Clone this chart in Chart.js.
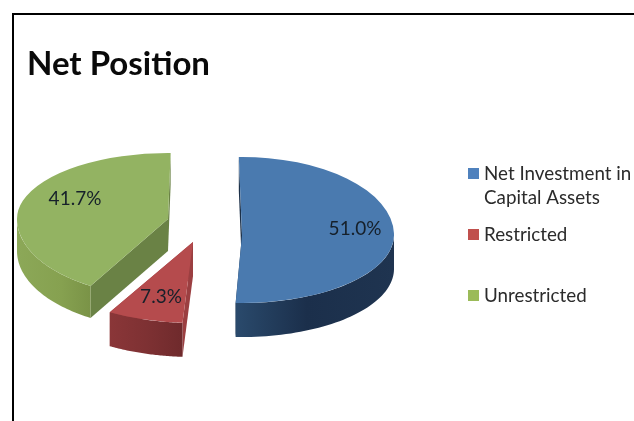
<!DOCTYPE html>
<html>
<head>
<meta charset="utf-8">
<style>
html,body{margin:0;padding:0;background:#fff;overflow:hidden}
canvas{display:block;filter:blur(0.5px)}
</style>
<script src="https://cdn.jsdelivr.net/npm/chart.js@4/dist/chart.umd.min.js"></script>
</head>
<body>
<canvas id="c" width="634" height="421"></canvas>
<script>
const titleText = 'Net Position';
const categories = ['Net Investment in Capital Assets', 'Restricted', 'Unrestricted'];
const legendLines = [['Net Investment in', 'Capital Assets'], ['Restricted'], ['Unrestricted']];
const values = [51.0, 7.3, 41.7];
const topColors = ['#4a7aaf', '#b54b4d', '#93b362'];
const swatchColors = ['#4f81bd', '#c0504d', '#9bbb59'];

const poses = [
  {cx:242, cy:235, rx:152, ryUp:78, ryDown:68, turn:-1.2, depth:34, label:[355,229],
   rim:[['0','#2a4a6c'],['0.45','#1b2f4b'],['1','#1f3450']], cut:'#1c3048'},
  {cx:193, cy:242, rx:167, ryUp:81, ryDown:81, turn:0, depth:34, label:[161,297],
   rim:[['0','#8a3638'],['0.5','#7e3133'],['1','#6f2a2c']], cut:'#9b3f41'},
  {cx:168, cy:219, rx:151, ryUp:66, ryDown:78, turn:1, depth:32, label:[75,199],
   rim:[['0','#8ca858'],['0.6','#86a150'],['1','#7a9347']], cut:'#6a8245'}
];
const legendLayout = [{box:168, lines:[174,198]}, {box:229, lines:[235]}, {box:290, lines:[296]}];
const FONT = 'Lato, "Liberation Sans", sans-serif';

function pt(p, t, drop){
  const a = t + p.turn*Math.PI/180;
  const s = Math.sin(a);
  return [p.cx + p.rx*Math.cos(a), p.cy + (s<0?p.ryUp:p.ryDown)*s + (drop||0)];
}

const pie3d = {
  id:'pie3d',
  beforeDraw(chart){
    const c = chart.ctx;
    c.save();
    c.fillStyle = '#fff';
    c.fillRect(0,0,chart.width,chart.height);
    c.strokeStyle = '#000';
    c.lineWidth = 2;
    c.beginPath();
    c.moveTo(13,421); c.lineTo(13,14); c.lineTo(634,14);
    c.stroke();
    c.restore();
  },
  beforeDatasetDraw(chart){
    const c = chart.ctx;
    const els = chart.getDatasetMeta(0).data;
    [2,0,1].forEach(i=>{
      const el = els[i], p = poses[i], R = el.outerRadius;
      const start = el.startAngle, end = el.endAngle;
      const a0 = pt(p,start), a1 = pt(p,end);

      // cut faces
      c.fillStyle = p.cut;
      [a0,a1].forEach(q=>{
        c.beginPath();
        c.moveTo(p.cx,p.cy); c.lineTo(q[0],q[1]);
        c.lineTo(q[0],q[1]+p.depth); c.lineTo(p.cx,p.cy+p.depth);
        c.closePath(); c.fill();
      });

      // rim
      const turn = p.turn*Math.PI/180;
      const from = Math.max(start, -turn), to = Math.min(end, Math.PI-turn);
      if(to>from){
        const top=[], n=48;
        for(let k=0;k<=n;k++) top.push(pt(p, from+(to-from)*k/n));
        const xs = top.map(q=>q[0]);
        const g = c.createLinearGradient(Math.min(...xs),0,Math.max(...xs),0);
        p.rim.forEach(s=>g.addColorStop(+s[0],s[1]));
        c.fillStyle = g;
        c.beginPath();
        top.forEach((q,k)=> k?c.lineTo(q[0],q[1]):c.moveTo(q[0],q[1]));
        top.slice().reverse().forEach(q=>c.lineTo(q[0],q[1]+p.depth));
        c.closePath(); c.fill();
      }

      // top face, drawn by the library's arc element, upper and lower halves
      [[0,p.cy,p.ryUp],[p.cy,chart.height-p.cy,p.ryDown]].forEach(h=>{
        c.save();
        c.beginPath(); c.rect(0,h[0],chart.width,h[1]); c.clip();
        c.translate(p.cx,p.cy);
        c.scale(p.rx/R,h[2]/R);
        c.rotate(turn);
        c.translate(-el.x,-el.y);
        el.draw(c);
        c.restore();
      });
    });
    return false;
  },
  afterDatasetsDraw(chart){
    const c = chart.ctx;
    c.save();
    c.font = '19px '+FONT;
    c.fillStyle = '#16202a';
    c.textAlign='center'; c.textBaseline='middle';
    values.forEach((v,i)=>c.fillText(v.toFixed(1)+'%',poses[i].label[0],poses[i].label[1]));
    c.font = '18.8px '+FONT;
    c.textAlign='left';
    legendLines.forEach((lines,i)=>{
      const l = legendLayout[i];
      c.fillStyle = swatchColors[i];
      c.fillRect(468,l.box,11,11);
      c.fillStyle = '#2b2b2b';
      lines.forEach((t,k)=>c.fillText(t,484,l.lines[k]));
    });
    c.restore();
  }
};

new Chart(document.getElementById('c'),{
  type:'pie',
  data:{labels:categories,datasets:[{data:values,backgroundColor:topColors,borderWidth:0}]},
  options:{
    responsive:false,animation:false,
    layout:{padding:{left:27,top:45}},
    events:[],
    plugins:{
      legend:{display:false},
      tooltip:{enabled:false},
      title:{display:true,text:titleText,align:'start',color:'#0a0a0a',
             font:{family:FONT,size:33,weight:'bold'},padding:{top:0,bottom:0}}
    }
  },
  plugins:[pie3d]
});
</script>
</body>
</html>
